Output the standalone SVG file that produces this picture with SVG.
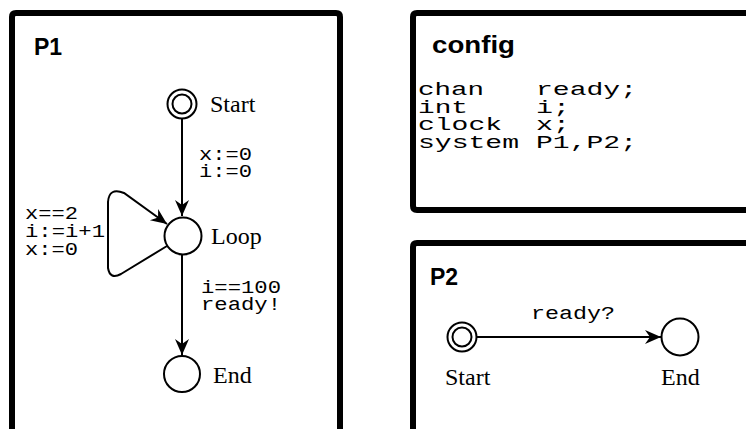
<svg xmlns="http://www.w3.org/2000/svg" width="746" height="429" viewBox="0 0 746 429">
  <style>
    .frame { fill: none; stroke: #000; stroke-width: 6; stroke-linejoin: round; }
    .title { font-family: "Liberation Sans", Arial, sans-serif; font-weight: bold; font-size: 23px; fill: #000; }
    .name { font-family: "Liberation Serif", "Times New Roman", serif; font-size: 24px; fill: #000; }
    .code { font-family: "Liberation Mono", "Courier New", monospace; font-size: 18px; fill: #000; }
    .decl { font-family: "Liberation Mono", "Courier New", monospace; font-size: 18px; fill: #000; }
    .loc { fill: #fff; stroke: #000; stroke-width: 2; }
    .edge { fill: none; stroke: #000; stroke-width: 2; }
  </style>
  <defs>
    <marker id="arrow" viewBox="-17 -8 18 16" refX="0" refY="0" markerWidth="18" markerHeight="16" markerUnits="userSpaceOnUse" orient="auto">
      <path d="M0,0 L-16,-7 L-11,0 L-16,7 Z" fill="#000"/>
    </marker>
  </defs>
  <rect width="746" height="429" fill="#fff"/>

  <!-- process P1 -->
  <g id="p1-frame">
    <path class="frame" d="M12,440 V17 Q12,13 16,13 H336 Q340,13 340,17 V440"/>
    <text class="title" x="34" y="55">P1</text>
  </g>

  <!-- global declarations: keyword column and name column -->
  <g id="config">
    <path class="frame" d="M760,13 H417 Q413,13 413,17 V206 Q413,210 417,210 H760"/>
    <text class="title" x="432" y="53" textLength="83" lengthAdjust="spacingAndGlyphs">config</text>
    <text class="decl" x="418" y="95" textLength="66" lengthAdjust="spacingAndGlyphs">chan</text>
    <text class="decl" x="536" y="95" textLength="101" lengthAdjust="spacingAndGlyphs">ready;</text>
    <text class="decl" x="418" y="112.5" textLength="50" lengthAdjust="spacingAndGlyphs">int</text>
    <text class="decl" x="536" y="112.5" textLength="34" lengthAdjust="spacingAndGlyphs">i;</text>
    <text class="decl" x="418" y="130" textLength="84" lengthAdjust="spacingAndGlyphs">clock</text>
    <text class="decl" x="536" y="130" textLength="34" lengthAdjust="spacingAndGlyphs">x;</text>
    <text class="decl" x="418" y="147.5" textLength="101" lengthAdjust="spacingAndGlyphs">system</text>
    <text class="decl" x="536" y="147.5" textLength="101" lengthAdjust="spacingAndGlyphs">P1,P2;</text>
  </g>

  <!-- process P2 -->
  <g id="p2-frame">
    <path class="frame" d="M760,243 H417 Q413,243 413,247 V440"/>
    <text class="title" x="430" y="285">P2</text>
  </g>

  <!-- edges -->
  <g id="connectors">
    <path class="edge" d="M182,119 V216" marker-end="url(#arrow)"/>
    <text class="code" x="199" y="160" textLength="53" lengthAdjust="spacingAndGlyphs">x:=0</text>
    <text class="code" x="199" y="177" textLength="53" lengthAdjust="spacingAndGlyphs">i:=0</text>

    <path class="edge" d="M167,246 L121,274 Q110,280 108,268 V202 Q109,187 124,193 L167,224" marker-end="url(#arrow)"/>
    <text class="code" x="25" y="219" textLength="53" lengthAdjust="spacingAndGlyphs">x==2</text>
    <text class="code" x="25" y="237" textLength="80" lengthAdjust="spacingAndGlyphs">i:=i+1</text>
    <text class="code" x="25" y="255" textLength="53" lengthAdjust="spacingAndGlyphs">x:=0</text>

    <path class="edge" d="M182,255 V355" marker-end="url(#arrow)"/>
    <text class="code" x="201" y="293" textLength="80" lengthAdjust="spacingAndGlyphs">i==100</text>
    <text class="code" x="201" y="310" textLength="80" lengthAdjust="spacingAndGlyphs">ready!</text>

    <path class="edge" d="M477,337 H661" marker-end="url(#arrow)"/>
    <text class="code" x="531" y="319" textLength="84" lengthAdjust="spacingAndGlyphs">ready?</text>
  </g>

  <!-- locations of P1 -->
  <g id="p1-start">
    <circle class="loc" cx="182" cy="104" r="14.5"/>
    <circle class="loc" cx="182" cy="104" r="9.5"/>
    <text class="name" x="210" y="112">Start</text>
  </g>
  <g id="p1-loop">
    <circle class="loc" cx="183" cy="236" r="18.5"/>
    <text class="name" x="211" y="244">Loop</text>
  </g>
  <g id="p1-end">
    <circle class="loc" cx="182" cy="374" r="18"/>
    <text class="name" x="213" y="383">End</text>
  </g>

  <!-- locations of P2 -->
  <g id="p2-start">
    <circle class="loc" cx="462" cy="337" r="14.5"/>
    <circle class="loc" cx="462" cy="337" r="9.5"/>
    <text class="name" x="445" y="385">Start</text>
  </g>
  <g id="p2-end">
    <circle class="loc" cx="680" cy="337" r="18.5"/>
    <text class="name" x="661" y="385">End</text>
  </g>
</svg>
